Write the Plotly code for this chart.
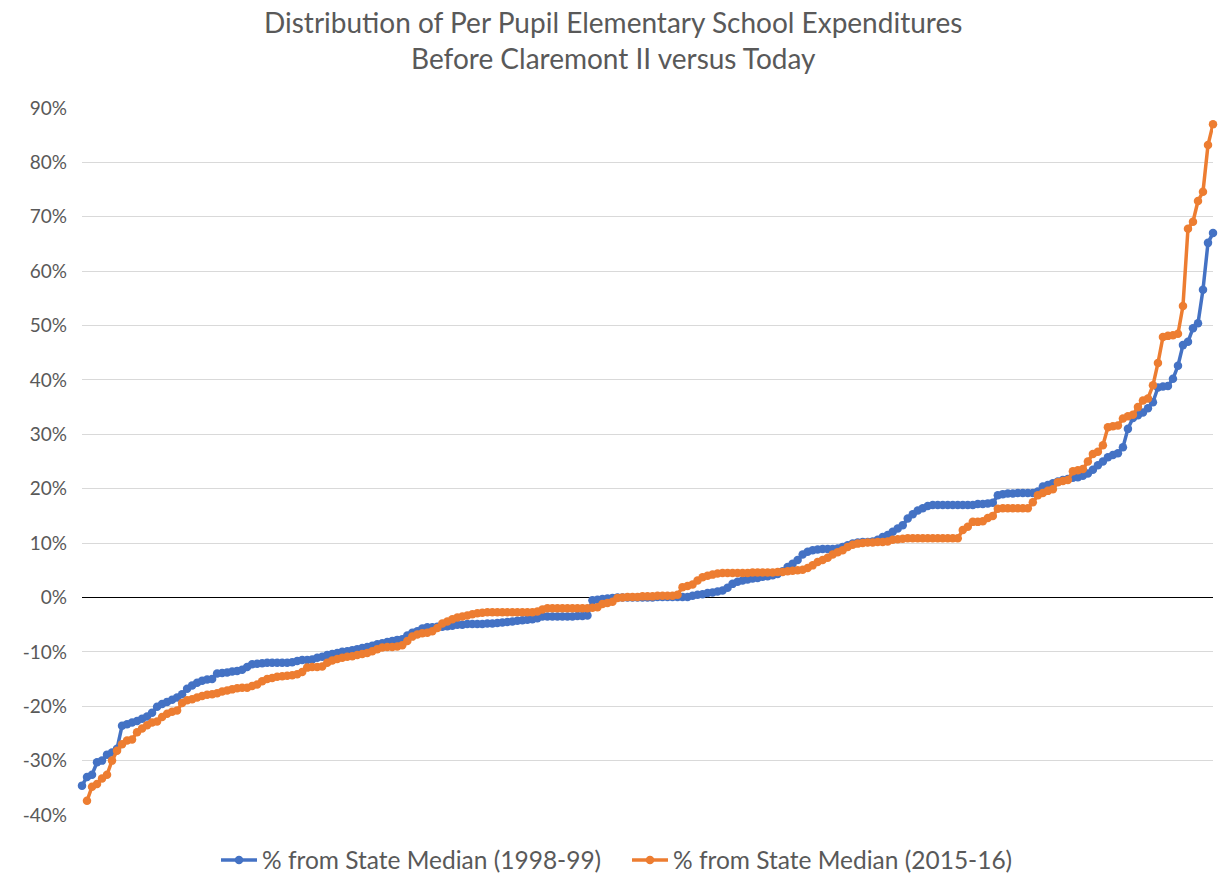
import plotly.graph_objects as go

title_lines = ["Distribution of Per Pupil Elementary School Expenditures",
               "Before Claremont II versus Today"]
series_names = ["% from State Median (1998-99)", "% from State Median (2015-16)"]
y_ticks = [-40, -30, -20, -10, 0, 10, 20, 30, 40, 50, 60, 70, 80, 90]
y_tick_labels = [f"{v}%" for v in y_ticks]

blue = [
    -34.6, -33.0, -32.6, -30.3, -30.0, -28.9, -28.5, -27.8, -23.6, -23.3,
    -23.0, -22.7, -22.3, -21.9, -21.2, -20.1, -19.6, -19.2, -18.8, -18.4,
    -17.8, -16.8, -16.2, -15.7, -15.3, -15.1, -15.0, -14.0, -13.9, -13.8,
    -13.6, -13.5, -13.3, -12.8, -12.3, -12.2, -12.1, -12.0, -12.0, -12.0,
    -12.0, -12.0, -11.9, -11.7, -11.5, -11.5, -11.4, -11.1, -10.9, -10.6,
    -10.4, -10.2, -10.0, -9.9, -9.7, -9.5, -9.3, -9.1, -8.9, -8.6,
    -8.4, -8.2, -8.0, -7.8, -7.7, -7.0, -6.5, -6.2, -5.7, -5.5,
    -5.5, -5.4, -5.4, -5.3, -5.2, -5.0, -5.0, -4.9, -4.9, -4.9,
    -4.9, -4.8, -4.8, -4.7, -4.6, -4.5, -4.4, -4.3, -4.2, -4.1,
    -4.0, -3.8, -3.5, -3.5, -3.5, -3.5, -3.5, -3.5, -3.5, -3.4,
    -3.4, -3.3, -0.5, -0.4, -0.3, -0.2, -0.1, 0.0, 0.0, 0.0,
    0.0, 0.0, 0.0, 0.0, 0.0, 0.1, 0.1, 0.1, 0.1, 0.1,
    0.1, 0.1, 0.3, 0.5, 0.6, 0.8, 0.9, 1.1, 1.3, 1.8,
    2.5, 2.9, 3.1, 3.3, 3.5, 3.6, 3.8, 3.9, 4.1, 4.3,
    4.8, 5.6, 6.2, 6.9, 7.9, 8.4, 8.7, 8.8, 8.9, 8.9,
    8.9, 9.0, 9.3, 9.6, 9.9, 10.1, 10.2, 10.2, 10.3, 10.6,
    11.1, 11.5, 12.1, 12.7, 13.3, 14.5, 15.3, 16.0, 16.4, 16.8,
    17.0, 17.0, 17.0, 17.0, 17.0, 17.0, 17.0, 17.0, 17.0, 17.2,
    17.2, 17.3, 17.4, 18.8, 19.0, 19.1, 19.1, 19.2, 19.2, 19.2,
    19.2, 19.5, 20.4, 20.7, 21.0, 21.3, 21.6, 21.8, 22.0, 22.1,
    22.4, 22.8, 23.5, 24.3, 25.0, 25.8, 26.2, 26.5, 27.6, 31.0,
    33.0, 33.5, 34.0, 34.8, 35.9, 38.6, 38.8, 38.9, 40.2, 42.6,
    46.4, 47.0, 49.5, 50.4, 56.6, 65.2, 67.0,
]

orange = [
    None, -37.4, -34.8, -34.3, -33.3, -32.6, -30.0, -28.2, -27.0, -26.3,
    -26.1, -24.8, -24.1, -23.5, -23.0, -22.8, -22.0, -21.4, -21.0, -20.8,
    -19.4, -18.9, -18.7, -18.4, -18.1, -17.9, -17.8, -17.6, -17.3, -17.1,
    -16.9, -16.7, -16.6, -16.6, -16.3, -16.0, -15.4, -15.0, -14.8, -14.6,
    -14.5, -14.4, -14.3, -14.1, -13.7, -12.9, -12.8, -12.8, -12.7, -12.0,
    -11.6, -11.3, -11.1, -10.9, -10.8, -10.6, -10.4, -10.2, -9.9, -9.5,
    -9.2, -9.1, -9.1, -9.0, -8.8, -8.0, -7.2, -6.8, -6.6, -6.5,
    -6.2, -5.6, -4.8, -4.4, -4.0, -3.7, -3.5, -3.3, -3.1, -2.9,
    -2.8, -2.7, -2.7, -2.7, -2.7, -2.7, -2.7, -2.7, -2.7, -2.7,
    -2.7, -2.6, -2.2, -2.0, -2.0, -2.0, -2.0, -2.0, -2.0, -2.0,
    -2.0, -2.0, -1.9, -1.8, -1.2, -1.0, -0.8, -0.1, 0.0, 0.1,
    0.1, 0.1, 0.2, 0.2, 0.2, 0.3, 0.3, 0.3, 0.3, 0.5,
    1.9, 2.1, 2.4, 3.1, 3.7, 4.0, 4.2, 4.4, 4.5, 4.5,
    4.5, 4.5, 4.5, 4.5, 4.6, 4.6, 4.6, 4.6, 4.6, 4.7,
    4.7, 4.8, 4.9, 5.0, 5.1, 5.4, 5.9, 6.5, 6.9, 7.3,
    7.9, 8.3, 8.7, 9.3, 9.7, 9.9, 10.0, 10.1, 10.1, 10.2,
    10.2, 10.3, 10.6, 10.7, 10.8, 10.9, 10.9, 10.9, 10.9, 10.9,
    10.9, 10.9, 10.9, 10.9, 10.9, 10.9, 12.4, 13.0, 13.9, 13.9,
    14.0, 14.6, 15.0, 16.3, 16.4, 16.4, 16.4, 16.4, 16.4, 16.4,
    17.5, 18.8, 19.2, 19.6, 19.9, 21.2, 21.4, 21.6, 23.2, 23.4,
    23.6, 25.0, 26.4, 26.8, 28.0, 31.3, 31.5, 31.6, 32.9, 33.3,
    33.6, 35.0, 36.2, 36.6, 39.0, 43.1, 47.9, 48.1, 48.2, 48.5,
    53.6, 67.8, 69.1, 72.9, 74.6, 83.2, 87.0,
]

districts = list(range(1, len(blue) + 1))

FONT = "Lato, Carlito, 'Open Sans', sans-serif"
GRAY = "#595959"

FIG_W, FIG_H = 1225, 875
PLOT_L, PLOT_R, PLOT_T, PLOT_B = 82, 1213, 108, 815


def paper_y(pix):
    return (PLOT_B - pix) / (PLOT_B - PLOT_T)


def paper_x(pix):
    return (pix - PLOT_L) / (PLOT_R - PLOT_L)


fig = go.Figure()
fig.add_trace(go.Scatter(
    x=districts, y=blue, name=series_names[0], mode="lines+markers",
    line=dict(color="#4472C4", width=3.5), marker=dict(color="#4472C4", size=8.5),
    cliponaxis=False,
))
fig.add_trace(go.Scatter(
    x=districts, y=orange, name=series_names[1], mode="lines+markers",
    line=dict(color="#ED7D31", width=3.5), marker=dict(color="#ED7D31", size=8.5),
    cliponaxis=False,
))

for text, ypix in zip(title_lines, [22, 58]):
    fig.add_annotation(text=text, xref="paper", yref="paper", x=paper_x(613), y=paper_y(ypix),
                       xanchor="center", yanchor="middle", showarrow=False, borderpad=0,
                       font=dict(family=FONT, size=28, color=GRAY))

fig.update_layout(
    width=FIG_W, height=FIG_H,
    paper_bgcolor="white", plot_bgcolor="white",
    margin=dict(l=PLOT_L, r=FIG_W - PLOT_R, t=PLOT_T, b=FIG_H - PLOT_B, autoexpand=False),
    font=dict(family=FONT, color=GRAY),
    showlegend=True,
    legend=dict(orientation="h", x=paper_x(216), xanchor="left", y=paper_y(860), yanchor="middle",
                font=dict(family=FONT, size=24.5, color=GRAY), itemwidth=36,
                entrywidth=360, entrywidthmode="pixels",
                traceorder="normal"),
    xaxis=dict(range=[1, len(blue)], showgrid=False, showticklabels=False,
               zeroline=False, showline=False, ticks="", automargin=False),
    yaxis=dict(range=[-40, 90], tickvals=y_ticks, ticktext=y_tick_labels,
               showgrid=True, gridcolor="#D9D9D9", gridwidth=1,
               zeroline=True, zerolinecolor="black", zerolinewidth=1.3,
               showline=False, ticks="", ticklabelstandoff=14, automargin=False,
               tickfont=dict(family=FONT, size=19, color=GRAY)),
)

fig.write_html("out.html", config={"displayModeBar": False},
               post_script="document.body.style.margin='0';document.body.style.overflow='hidden';")
